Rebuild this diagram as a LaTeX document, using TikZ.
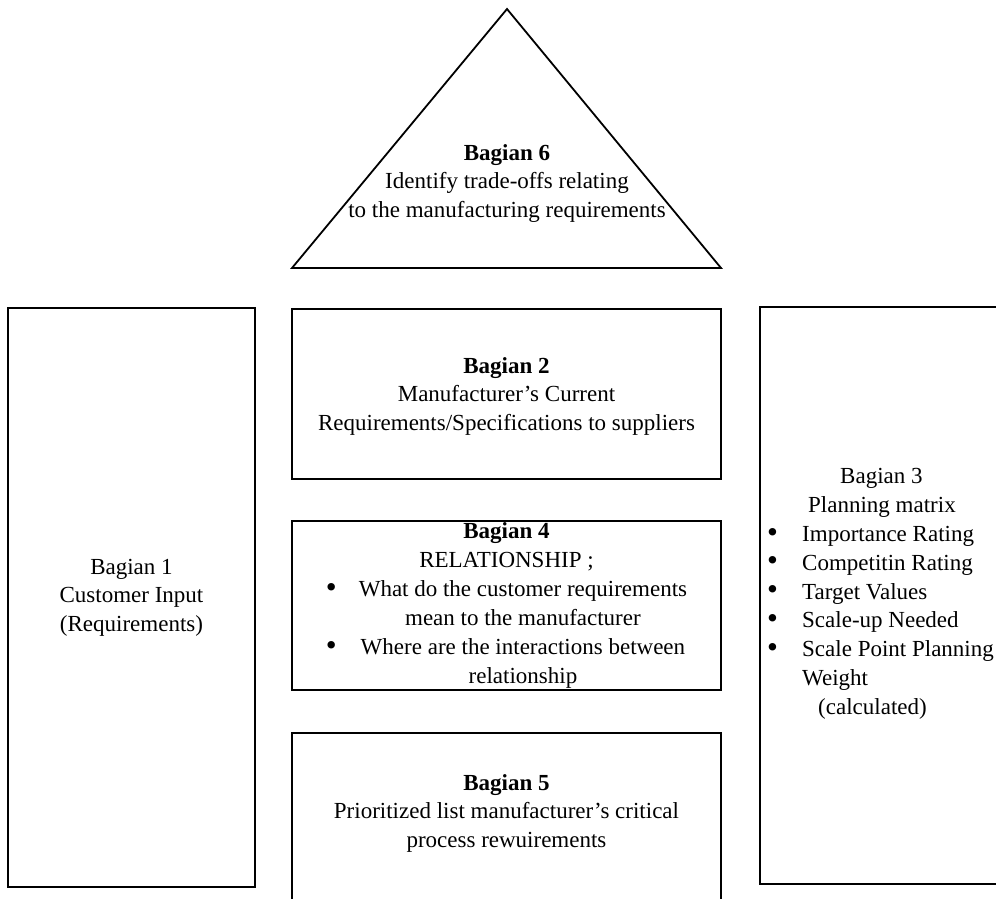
\documentclass[tikz,border=0pt]{standalone}
\usepackage{fontspec}
\setmainfont{Liberation Serif}
\newcommand{\bigbul}{\raisebox{-0.5pt}{\scalebox{1.35}{\textbullet}}}
\begin{document}
\begin{tikzpicture}[x=1pt,y=-1pt,
  box/.style={draw, line width=1.8pt, inner sep=0pt},
  txt/.style={inner sep=0pt, align=center, font=\fontsize{23}{28.5}\selectfont}]
\useasboundingbox (0,0) rectangle (996,898);
\clip (0,0) rectangle (996,898);
% Bagian 6 triangle
\coordinate (apex) at (507,9);
\coordinate (bl) at (292,268);
\coordinate (br) at (721,268);
\draw[line width=1.8pt] (apex) -- (br) -- (bl) -- cycle;
\node[txt] (t6) at (507,183) {\textbf{Bagian 6}\\Identify trade-offs relating\\to the manufacturing requirements};
% Bagian 1
\node[box, txt, minimum width=247pt, minimum height=579pt] (b1) at (131.5,597.5)
  {Bagian 1\\Customer Input\\(Requirements)};
% Bagian 2
\node[box, minimum width=429pt, minimum height=170pt] (b2) at (506.5,394) {};
\node[txt] (t2) at (506.5,396)
  {\textbf{Bagian 2}\\Manufacturer’s Current\\Requirements/Specifications to suppliers};
% Bagian 4
\node[box, minimum width=429pt, minimum height=169pt] (b4) at (506.5,605.5) {};
\node[txt, font=\fontsize{23}{29}\selectfont] (t4) at (506.5,607.5)
  {\textbf{Bagian 4}\\RELATIONSHIP ;\\
   \begin{tabular}[t]{@{}l@{\hspace{22pt}}c@{}}
   \bigbul & What do the customer requirements\\
   & mean to the manufacturer\\
   \bigbul & Where are the interactions between\\
   & relationship
   \end{tabular}};
% Bagian 5
\node[box, minimum width=429pt, minimum height=177pt] (b5) at (506.5,821.5) {};
\node[txt] (t5) at (506.5,813)
  {\textbf{Bagian 5}\\Prioritized list manufacturer’s critical\\process rewuirements};
% Bagian 3
\node[box, minimum width=250pt, minimum height=577pt] (b3) at (885,595.5) {};
\node[txt, align=left, anchor=west, font=\fontsize{23}{28.8}\selectfont] (t3) at (767,594)
  {\hspace*{73pt}Bagian 3\\
   \hspace*{41pt}Planning matrix\\
   \makebox[35pt][l]{\bigbul}Importance Rating\\
   \makebox[35pt][l]{\bigbul}Competitin Rating\\
   \makebox[35pt][l]{\bigbul}Target Values\\
   \makebox[35pt][l]{\bigbul}Scale-up Needed\\
   \makebox[35pt][l]{\bigbul}Scale Point Planning\\
   \hspace*{35pt}Weight\\
   \hspace*{51pt}(calculated)};
\end{tikzpicture}
\end{document}
